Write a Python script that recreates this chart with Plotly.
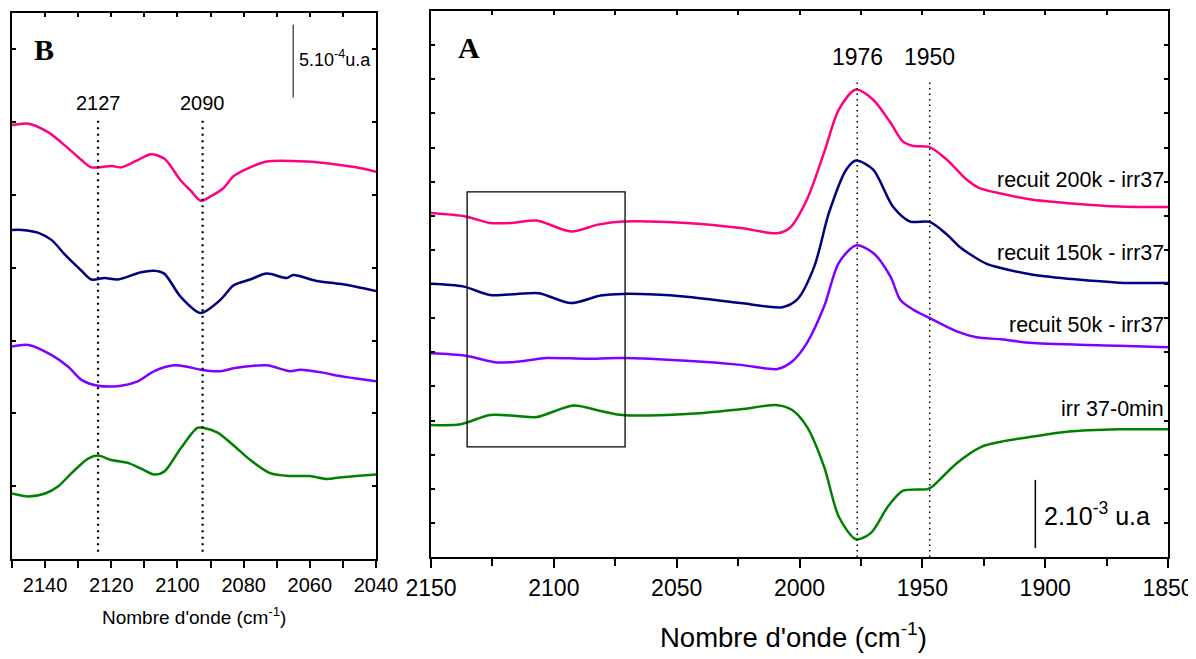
import plotly.graph_objects as go

# ---- panel A : full range, absorbance in 10^-3 u.a. (offset curves)
A_wn_200k = [2150, 2136, 2126, 2117, 2107, 2093, 2082, 2072, 2046, 2024, 2009, 2004, 1997, 1990,
             1984, 1977, 1970, 1963, 1958, 1954, 1947, 1940, 1932, 1927, 1918, 1905, 1870, 1850]
A_200k = [10.08, 9.98, 9.79, 9.79, 9.86, 9.54, 9.74, 9.83, 9.79, 9.64, 9.49, 9.64, 10.47, 11.85,
          13.11, 13.70, 13.40, 12.73, 12.18, 12.05, 12.01, 11.64, 11.06, 10.82, 10.65, 10.47, 10.27, 10.26]

A_wn_150k = [2150, 2137, 2126, 2115, 2106, 2093, 2081, 2072, 2046, 2024, 2007, 2001, 1994, 1988,
             1981, 1977, 1970, 1962, 1955, 1947, 1940, 1935, 1929, 1924, 1918, 1905, 1870, 1850]
A_150k = [8.01, 7.93, 7.68, 7.71, 7.73, 7.44, 7.66, 7.71, 7.63, 7.44, 7.32, 7.54, 8.51, 10.09,
          11.35, 11.62, 11.35, 10.27, 9.83, 9.82, 9.45, 9.10, 8.80, 8.60, 8.47, 8.27, 8.04, 8.03]

A_wn_50k = [2150, 2136, 2123, 2114, 2103, 2087, 2072, 2046, 2024, 2009, 2003, 1997, 1990, 1984,
            1977, 1970, 1963, 1959, 1954, 1947, 1936, 1928, 1918, 1905, 1870, 1850]
A_50k = [5.97, 5.90, 5.70, 5.73, 5.83, 5.81, 5.83, 5.75, 5.63, 5.51, 5.73, 6.27, 7.34, 8.62,
         9.13, 8.91, 8.22, 7.54, 7.26, 7.00, 6.61, 6.44, 6.38, 6.27, 6.19, 6.15]

A_wn_irr = [2150, 2138, 2126, 2115, 2107, 2092, 2081, 2072, 2046, 2024, 2009, 2003, 1997, 1990,
            1984, 1977, 1971, 1964, 1958, 1948, 1946, 1936, 1926, 1918, 1905, 1891, 1870, 1850]
A_irr = [3.87, 3.89, 4.16, 4.13, 4.10, 4.44, 4.28, 4.16, 4.19, 4.33, 4.45, 4.31, 3.82, 2.65,
         1.18, 0.52, 0.70, 1.48, 1.94, 1.99, 2.06, 2.75, 3.23, 3.38, 3.53, 3.67, 3.74, 3.74]

# ---- panel B : zoom 2150-2040
B_wn_200k = [2150, 2145, 2139, 2133, 2129, 2126, 2120, 2117, 2112, 2108, 2104, 2099, 2096, 2093,
             2090, 2086, 2083, 2078, 2073, 2061, 2052, 2046, 2040]
B_200k = [2.98, 2.99, 2.93, 2.82, 2.74, 2.69, 2.70, 2.69, 2.74, 2.78, 2.75, 2.60, 2.53, 2.46,
          2.49, 2.55, 2.63, 2.69, 2.73, 2.73, 2.71, 2.69, 2.66]

B_wn_150k = [2150, 2147, 2142, 2138, 2134, 2129, 2126, 2122, 2118, 2111, 2107, 2104, 2099, 2093,
             2087, 2083, 2078, 2073, 2067, 2065, 2058, 2051, 2046, 2040]
B_150k = [2.26, 2.26, 2.24, 2.19, 2.09, 1.98, 1.92, 1.93, 1.92, 1.97, 1.98, 1.96, 1.80, 1.69,
          1.78, 1.88, 1.92, 1.96, 1.93, 1.95, 1.91, 1.89, 1.87, 1.84]

B_wn_50k = [2150, 2145, 2138, 2133, 2129, 2124, 2117, 2112, 2107, 2101, 2097, 2093, 2087, 2083,
            2073, 2066, 2063, 2056, 2052, 2046, 2040]
B_50k = [1.46, 1.47, 1.40, 1.32, 1.23, 1.19, 1.19, 1.22, 1.29, 1.33, 1.32, 1.30, 1.29, 1.31,
         1.33, 1.29, 1.30, 1.28, 1.26, 1.24, 1.22]

B_wn_irr = [2150, 2145, 2140, 2136, 2132, 2127, 2124, 2120, 2115, 2111, 2107, 2104, 2099, 2094,
            2092, 2088, 2083, 2078, 2072, 2066, 2060, 2055, 2051, 2046, 2040]
B_irr = [0.45, 0.43, 0.45, 0.50, 0.59, 0.69, 0.71, 0.68, 0.66, 0.62, 0.58, 0.60, 0.76, 0.90,
         0.90, 0.87, 0.78, 0.68, 0.59, 0.57, 0.57, 0.55, 0.56, 0.57, 0.58]

labels = ["recuit 200k - irr37", "recuit 150k - irr37", "recuit 50k - irr37", "irr 37-0min"]
colors = ["#FF0080", "#000080", "#8000FF", "#008000"]

A_peaks = [1976.5, 1947]
A_peak_text = ["1976", "1950"]
B_peaks = [2124, 2092.4]
B_peak_text = ["2127", "2090"]

# page pixels; the html body adds an 8px margin, so the figure is drawn 8px smaller
SW, SH = 1196, 659
OFF = 8
W, H = SW - OFF, SH - OFF
FONT = "Liberation Sans, Arial, sans-serif"


def px(x):
    return (x - OFF) / W


def py(y):
    return 1 - (y - OFF) / H


fig = go.Figure()

A_series = [(A_wn_200k, A_200k), (A_wn_150k, A_150k), (A_wn_50k, A_50k), (A_wn_irr, A_irr)]
B_series = [(B_wn_200k, B_200k), (B_wn_150k, B_150k), (B_wn_50k, B_50k), (B_wn_irr, B_irr)]

for (wn, ab), c, name in zip(B_series, colors, labels):
    fig.add_trace(go.Scatter(x=wn, y=ab, mode="lines", name=name, xaxis="x", yaxis="y",
                             line=dict(color=c, width=2.5, shape="spline", smoothing=0.8),
                             showlegend=False))
for (wn, ab), c, name in zip(A_series, colors, labels):
    fig.add_trace(go.Scatter(x=wn, y=ab, mode="lines", name=name, xaxis="x2", yaxis="y2",
                             line=dict(color=c, width=2.5, shape="spline", smoothing=0.8),
                             showlegend=False))
# empty traces so the top tick axes are drawn
fig.add_trace(go.Scatter(x=[], y=[], xaxis="x3", yaxis="y", showlegend=False, hoverinfo="skip"))
fig.add_trace(go.Scatter(x=[], y=[], xaxis="x4", yaxis="y2", showlegend=False, hoverinfo="skip"))

ax_common = dict(showgrid=False, zeroline=False, showline=True, linecolor="black",
                 linewidth=2, tickcolor="black", tickwidth=1.5, automargin=False)

fig.update_layout(
    width=W, height=H,
    margin=dict(l=0, r=0, t=0, b=0, pad=0, autoexpand=False),
    showlegend=False,
    paper_bgcolor="white", plot_bgcolor="white",
    font=dict(family=FONT, color="black"),
    # panel B
    xaxis=dict(domain=[px(12), px(376)], range=[2150, 2040], anchor="y",
               tickmode="linear", tick0=2040, dtick=20, ticks="outside", ticklen=7,
               minor=dict(dtick=10, ticks="outside", ticklen=7, tickcolor="black", tickwidth=1.5),
               tickfont=dict(size=20), ticklabelstandoff=0, **ax_common),
    yaxis=dict(domain=[py(559), py(13)], range=[0, 3.75], anchor="x",
               tickmode="linear", tick0=0, dtick=0.5, ticks="inside", ticklen=4,
               mirror="ticks", showticklabels=False, **ax_common),
    xaxis3=dict(overlaying="x", side="top", anchor="y", range=[2150, 2040],
                tickmode="linear", tick0=2040, dtick=10, ticks="inside", ticklen=4,
                showticklabels=False, **ax_common),
    # panel A
    xaxis2=dict(domain=[px(431), px(1168)], range=[2150, 1850], anchor="y2",
                tickmode="linear", tick0=1850, dtick=50, ticks="outside", ticklen=9,
                minor=dict(dtick=25, ticks="outside", ticklen=7, tickcolor="black", tickwidth=1.5),
                tickfont=dict(size=23), ticklabelstandoff=0, **ax_common),
    yaxis2=dict(domain=[py(557), py(11)], range=[0, 16], anchor="x2",
                tickmode="linear", tick0=0, dtick=1, ticks="inside", ticklen=4,
                mirror="ticks", showticklabels=False, **ax_common),
    xaxis4=dict(overlaying="x2", side="top", anchor="y2", range=[2150, 1850],
                tickmode="linear", tick0=1850, dtick=25, ticks="inside", ticklen=4,
                showticklabels=False, **ax_common),
)

# dotted peak markers
for p in A_peaks:
    fig.add_shape(type="line", xref="x2", yref="y2", x0=p, x1=p, y0=0, y1=14.0,
                  line=dict(color="black", width=1.5, dash="1.5px,4px"))
for p in B_peaks:
    fig.add_shape(type="line", xref="x", yref="y", x0=p, x1=p, y0=0.05, y1=3.02,
                  line=dict(color="black", width=2.2, dash="2px,4.5px"))

# zoom rectangle in panel A
fig.add_shape(type="rect", xref="x2", yref="y2", x0=2135.3, x1=2071, y0=3.23, y1=10.7,
              line=dict(color="black", width=1.3))

# scale bars
fig.add_shape(type="line", xref="x2", yref="y2", x0=1904, x1=1904, y0=0.26, y1=2.26,
              line=dict(color="black", width=1.5))
fig.add_shape(type="line", xref="x", yref="y", x0=2065, x1=2065, y0=3.17, y1=3.67,
              line=dict(color="#555555", width=1.5))

ann = []
for p, t in zip(A_peaks, A_peak_text):
    ann.append(dict(x=p, xref="x2", y=py(57), yref="paper", text=t, showarrow=False,
                    font=dict(size=23), xanchor="center", yanchor="middle"))
for p, t in zip(B_peaks, B_peak_text):
    ann.append(dict(x=p, xref="x", y=py(103), yref="paper", text=t, showarrow=False,
                    font=dict(size=20), xanchor="center", yanchor="middle"))

label_y = [180, 253, 325, 409]
for t, yy in zip(labels, label_y):
    ann.append(dict(x=px(1166), xref="paper", y=py(yy), yref="paper", text=t, showarrow=False,
                    font=dict(size=21.5), xanchor="right", yanchor="middle"))

ann += [
    dict(x=px(44), y=py(50), text="<b>B</b>", font=dict(size=30, family="Liberation Serif, Times New Roman, serif")),
    dict(x=px(469), y=py(48), text="<b>A</b>", font=dict(size=30, family="Liberation Serif, Times New Roman, serif")),
    dict(x=px(297), y=py(59), text="5.10<sup>-4</sup>u.a", font=dict(size=18), xanchor="left"),
    dict(x=px(1042), y=py(514), text="2.10<sup>-3</sup> u.a", font=dict(size=25), xanchor="left"),
    dict(x=px(194), y=py(616), text="Nombre d'onde (cm<sup>-1</sup>)", font=dict(size=19)),
    dict(x=px(793), y=py(635), text="Nombre d'onde (cm<sup>-1</sup>)", font=dict(size=27.5)),
]
for a in ann:
    a.setdefault("xref", "paper")
    a.setdefault("yref", "paper")
    a.setdefault("showarrow", False)
    a.setdefault("xanchor", "center")
    a.setdefault("yanchor", "middle")
    fig.add_annotation(**a)

fig.write_html("out.html")
